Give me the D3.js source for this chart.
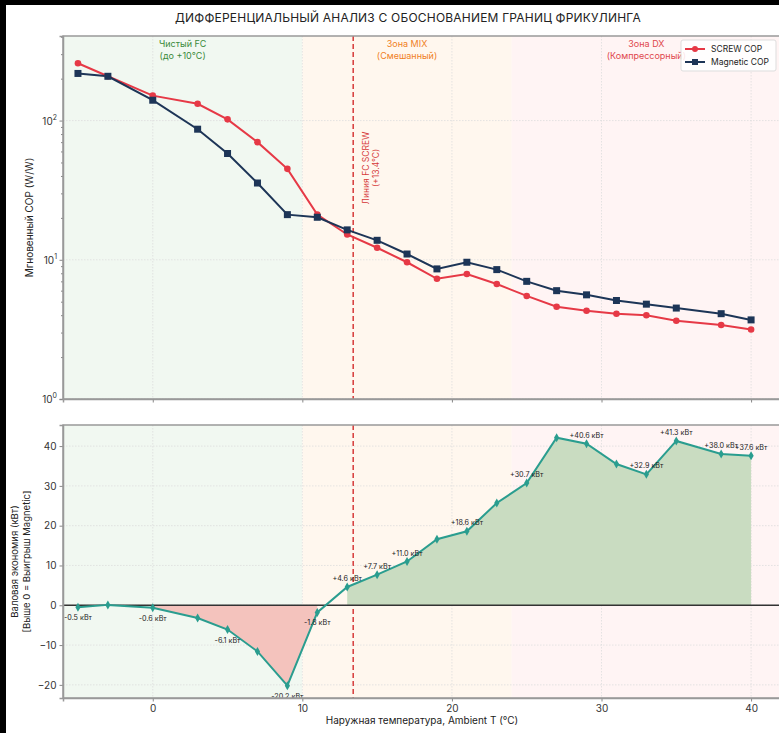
<!DOCTYPE html>
<html>
<head>
<meta charset="utf-8">
<script src="https://d3js.org/d3.v7.min.js"></script>
<style>
  body { margin: 0; background: #000; }
  svg { display: block; font-family: Inter, "Noto Sans", sans-serif; }
</style>
</head>
<body>
<script>
// данные
var temps = [-5, -3, 0, 3, 5, 7, 9, 11, 13, 15, 17, 19, 21, 23, 25, 27, 29, 31, 33, 35, 38, 40];
var screwCop = [258, 208, 151, 132, 102, 70, 45, 21.1, 15.2, 12.2, 9.6, 7.3, 7.9, 6.7, 5.5, 4.6, 4.3, 4.1, 4.0, 3.65, 3.4, 3.16];
var magneticCop = [218, 208, 140, 86.7, 58, 35.6, 21.1, 20.2, 16.4, 13.8, 11.0, 8.6, 9.6, 8.5, 7.0, 6.0, 5.6, 5.1, 4.8, 4.5, 4.1, 3.7];
var savings = [-0.5, 0.1, -0.6, -3.2, -6.1, -11.6, -20.2, -1.8, 4.6, 7.7, 11.0, 16.6, 18.6, 25.7, 30.7, 42.1, 40.6, 35.5, 32.9, 41.3, 38.0, 37.6];
var labelled = [1, 0, 1, 0, 1, 0, 1, 1, 1, 1, 1, 0, 1, 0, 1, 0, 1, 0, 1, 1, 1, 1];
var zones = [
  {from: -6, to: 10, name: "Чистый FC", sub: "(до +10°C)", bg: "#f1f8f1", fg: "#3a8a3a"},
  {from: 10, to: 24, name: "Зона MIX", sub: "(Смешанный)", bg: "#fff7ee", fg: "#f07f1e"},
  {from: 24, to: 42, name: "Зона DX", sub: "(Компрессорный)", bg: "#fff4f4", fg: "#e0474c"}
];
var fcLine = 13.4;
var xTicks = [0, 10, 20, 30, 40];
var yTicksTop = [1, 10, 100];
var yTicksBottom = [-20, -10, 0, 10, 20, 30, 40];

var W = 779, H = 733;
var left = 63, right = 781;
var top1 = 36, bot1 = 399;
var top2 = 425, bot2 = 698;

var svg = d3.select("body").append("svg").attr("width", W).attr("height", H);
svg.append("rect").attr("x", 6).attr("y", 5).attr("width", W).attr("height", H).attr("fill", "#fff");

svg.append("text").attr("x", 408).attr("y", 22).attr("text-anchor", "middle")
  .attr("font-size", 12).attr("fill", "#222").attr("letter-spacing", 0.2)
  .text("ДИФФЕРЕНЦИАЛЬНЫЙ АНАЛИЗ С ОБОСНОВАНИЕМ ГРАНИЦ ФРИКУЛИНГА");

var x = d3.scaleLinear().domain([-6, 42]).range([left, right]);
var yTop = d3.scaleLog().domain([1, 405]).range([bot1, top1]);
var yBot = d3.scaleLinear().domain([-23.3, 45.3]).range([bot2, top2]);

function panel(y, t, b) {
  var g = svg.append("g");
  g.selectAll("rect.zone").data(zones).enter().append("rect")
    .attr("x", d => x(d.from)).attr("width", d => x(d.to) - x(d.from))
    .attr("y", t).attr("height", b - t).attr("fill", d => d.bg);
  g.selectAll("line.gx").data(xTicks).enter().append("line")
    .attr("x1", d => x(d)).attr("x2", d => x(d)).attr("y1", t).attr("y2", b)
    .attr("stroke", "#ddd").attr("stroke-width", 0.8).attr("stroke-dasharray", "1.5,1.5");
  g.append("line").attr("x1", x(fcLine)).attr("x2", x(fcLine)).attr("y1", t).attr("y2", b)
    .attr("stroke", "#d63a3a").attr("stroke-width", 1.5).attr("stroke-dasharray", "5,3");
  return g;
}

// верхний график
var g1 = panel(yTop, top1, bot1);
g1.selectAll("line.gy").data(yTicksTop).enter().append("line")
  .attr("x1", left).attr("x2", right).attr("y1", d => yTop(d)).attr("y2", d => yTop(d))
  .attr("stroke", "#ddd").attr("stroke-width", 0.8).attr("stroke-dasharray", "1.5,1.5");

g1.selectAll("g.zl").data(zones).enter().append("text")
  .attr("x", d => x((d.from + d.to) / 2)).attr("text-anchor", "middle")
  .attr("font-size", 9).attr("fill", d => d.fg)
  .each(function(d) {
    d3.select(this).append("tspan").attr("x", x((d.from + d.to) / 2)).attr("y", 47).text(d.name);
    d3.select(this).append("tspan").attr("x", x((d.from + d.to) / 2)).attr("y", 59).text(d.sub);
  });

var fcText = g1.append("text").attr("transform", "translate(" + (x(fcLine) + 16) + ",168) rotate(-90)")
  .attr("text-anchor", "middle").attr("font-size", 8.5).attr("fill", "#d63a3a");
fcText.append("tspan").attr("x", 0).attr("y", 0).text("Линия FC SCREW");
fcText.append("tspan").attr("x", 0).attr("y", 10).text("(+13.4°C)");

var lineTop = (arr) => d3.line().x((d, i) => x(temps[i])).y(d => yTop(d))(arr);
g1.append("path").attr("d", lineTop(screwCop)).attr("fill", "none").attr("stroke", "#e63946").attr("stroke-width", 2);
g1.append("path").attr("d", lineTop(magneticCop)).attr("fill", "none").attr("stroke", "#1d3557").attr("stroke-width", 2);
g1.selectAll("circle.s").data(screwCop).enter().append("circle")
  .attr("cx", (d, i) => x(temps[i])).attr("cy", d => yTop(d)).attr("r", 3.3).attr("fill", "#e63946");
g1.selectAll("rect.m").data(magneticCop).enter().append("rect")
  .attr("x", (d, i) => x(temps[i]) - 3.5).attr("y", d => yTop(d) - 3.5)
  .attr("width", 7).attr("height", 7).attr("fill", "#1d3557");

var axY1 = svg.append("g").attr("transform", "translate(" + left + ",0)")
  .call(d3.axisLeft(yTop).tickValues(yTicksTop).tickSize(3.5).tickFormat(""));
var minors = [];
[1, 10, 100].forEach(function(p) { for (var k = 2; k <= 9; k++) if (p * k < 405) minors.push(p * k); });
svg.append("g").attr("transform", "translate(" + left + ",0)")
  .call(d3.axisLeft(yTop).tickValues(minors).tickSize(2).tickFormat(""))
  .call(a => a.select(".domain").remove());
var expo = ["0", "1", "2"];
yTicksTop.forEach(function(v, i) {
  var t = svg.append("text").attr("x", left - 6).attr("y", yTop(v) + 4).attr("text-anchor", "end")
    .attr("font-size", 10).attr("fill", "#333");
  t.append("tspan").text("10");
  t.append("tspan").attr("dy", -5).attr("font-size", 7).text(expo[i]);
});
svg.append("g").attr("transform", "translate(0," + bot1 + ")")
  .call(d3.axisBottom(x).tickValues(xTicks).tickSize(3.5).tickFormat(""));

svg.append("text").attr("transform", "translate(33," + ((top1 + bot1) / 2) + ") rotate(-90)")
  .attr("text-anchor", "middle").attr("font-size", 10).attr("fill", "#222").text("Мгновенный COP (W/W)");

// легенда
var leg = svg.append("g").attr("transform", "translate(681,40)");
leg.append("rect").attr("width", 95).attr("height", 31).attr("rx", 2).attr("fill", "#fff")
  .attr("fill-opacity", 0.85).attr("stroke", "#ddd");
var legItems = [{name: "SCREW COP", c: "#e63946", m: "circle"}, {name: "Magnetic COP", c: "#1d3557", m: "rect"}];
legItems.forEach(function(d, i) {
  var yy = 9 + i * 13;
  leg.append("line").attr("x1", 4).attr("x2", 24).attr("y1", yy).attr("y2", yy).attr("stroke", d.c).attr("stroke-width", 2);
  if (d.m == "circle") leg.append("circle").attr("cx", 14).attr("cy", yy).attr("r", 3).attr("fill", d.c);
  else leg.append("rect").attr("x", 11).attr("y", yy - 3).attr("width", 6).attr("height", 6).attr("fill", d.c);
  leg.append("text").attr("x", 30).attr("y", yy + 3).attr("font-size", 8.5).attr("fill", "#222").text(d.name);
});

// нижний график
var g2 = panel(yBot, top2, bot2);
g2.selectAll("line.gy").data(yTicksBottom).enter().append("line")
  .attr("x1", left).attr("x2", right).attr("y1", d => yBot(d)).attr("y2", d => yBot(d))
  .attr("stroke", "#ddd").attr("stroke-width", 0.8).attr("stroke-dasharray", "1.5,1.5");

// заливка по участкам одного знака (как fill_between where)
function runs(sign) {
  var out = [], cur = [];
  savings.forEach(function(v, i) {
    if (sign * v > 0) cur.push(i);
    else { if (cur.length > 1) out.push(cur); cur = []; }
  });
  if (cur.length > 1) out.push(cur);
  return out;
}
var area = d3.area().x(i => x(temps[i])).y0(yBot(0)).y1(i => yBot(savings[i]));
runs(-1).forEach(r => g2.append("path").attr("d", area(r)).attr("fill", "#f4c3bd"));
runs(1).forEach(r => g2.append("path").attr("d", area(r)).attr("fill", "#c9dcc1"));

g2.append("line").attr("x1", left).attr("x2", right).attr("y1", yBot(0)).attr("y2", yBot(0))
  .attr("stroke", "#333").attr("stroke-width", 1.5);

g2.append("path").attr("d", d3.line().x((d, i) => x(temps[i])).y(d => yBot(d))(savings))
  .attr("fill", "none").attr("stroke", "#2a9d8f").attr("stroke-width", 2);
g2.selectAll("path.dm").data(savings).enter().append("path")
  .attr("transform", (d, i) => "translate(" + x(temps[i]) + "," + yBot(d) + ")")
  .attr("d", "M0,-4.5L2.6,0L0,4.5L-2.6,0Z").attr("fill", "#2a9d8f");

savings.forEach(function(v, i) {
  if (!labelled[i]) return;
  g2.append("text").attr("x", x(temps[i])).attr("y", v < 0 ? yBot(v) + 13 : yBot(v) - 6)
    .attr("text-anchor", "middle").attr("font-size", 7.2).attr("fill", "#222")
    .text((v > 0 ? "+" : "") + v.toFixed(1) + " кВт");
});

svg.append("g").attr("transform", "translate(" + left + ",0)")
  .call(d3.axisLeft(yBot).tickValues(yTicksBottom).tickSize(3.5))
  .call(a => a.selectAll("text").attr("font-size", 10).attr("fill", "#333").attr("font-family", "Inter, sans-serif")
    .text(d => d < 0 ? "\u2212" + Math.abs(d) : d));
svg.append("g").attr("transform", "translate(0," + bot2 + ")")
  .call(d3.axisBottom(x).tickValues(xTicks).tickSize(3.5))
  .call(a => a.selectAll("text").attr("font-size", 10).attr("fill", "#333").attr("font-family", "Inter, sans-serif"));

var yl = svg.append("text").attr("transform", "translate(18," + ((top2 + bot2) / 2) + ") rotate(-90)")
  .attr("text-anchor", "middle").attr("font-size", 9.5).attr("fill", "#222");
yl.append("tspan").attr("x", 0).attr("y", 0).text("Валовая экономия (кВт)");
yl.append("tspan").attr("x", 0).attr("y", 12).text("[Выше 0 = Выигрыш Magnetic]");

svg.append("text").attr("x", (left + right) / 2).attr("y", 724).attr("text-anchor", "middle")
  .attr("font-size", 10).attr("fill", "#222").text("Наружная температура, Ambient T (°C)");

// рамки
[[top1, bot1], [top2, bot2]].forEach(function(p) {
  svg.append("rect").attr("x", left).attr("y", p[0]).attr("width", right - left).attr("height", p[1] - p[0])
    .attr("fill", "none").attr("stroke", "#999").attr("stroke-width", 1.5);
});
svg.selectAll(".domain").attr("stroke", "#999").attr("stroke-width", 1.5);
svg.selectAll(".tick line").attr("stroke", "#888");
</script>
</body>
</html>
